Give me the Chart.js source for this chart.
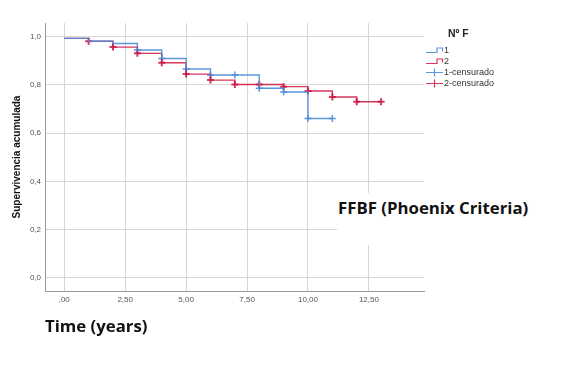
<!DOCTYPE html>
<html>
<head>
<meta charset="utf-8">
<script src="https://cdn.jsdelivr.net/npm/chart.js@4/dist/chart.umd.min.js"></script>
<style>
  html, body { margin: 0; padding: 0; background: #fff; }
  #wrap { position: relative; width: 567px; height: 367px; overflow: hidden; }
  #c { position: absolute; left: 0; top: 0; }
  #note { position: absolute; left: 337px; top: 193px; width: 205px; height: 52px; background: #fff;
          font-family: "Open Sans", sans-serif; font-weight: 700; font-size: 16.8px; color: #111;
          line-height: 20px; padding-top: 5px; padding-left: 1px; box-sizing: border-box; white-space: nowrap; }
  #legend { position: absolute; left: 426px; top: 24px; font-family: "Liberation Sans", Arial, sans-serif; color: #333; }
  #legend .ttl { position: absolute; left: 22px; top: 3px; font-weight: 700; font-size: 10.5px; color: #222; white-space: nowrap; }
  #legend .row { position: absolute; left: 0; height: 11px; font-size: 9px; line-height: 11px; white-space: nowrap; }
  #legend svg { position: absolute; left: 0; top: 0; }
  #legend .lbl { position: absolute; left: 18px; top: 0; }
</style>
</head>
<body>
<div id="wrap">
  <canvas id="c" width="567" height="367"></canvas>
  <div id="note">FFBF (Phoenix Criteria)</div>
  <div id="legend"></div>
</div>
<script>
// ---- data ----
const legendTitle = "Nº F";
const seriesLabels = ["1", "2", "1-censurado", "2-censurado"];
const xTickValues = [0, 2.5, 5, 7.5, 10, 12.5];
const xTickLabels = [",00", "2,50", "5,00", "7,50", "10,00", "12,50"];
const yTickValues = [0, 0.2, 0.4, 0.6, 0.8, 1.0];
const yTickLabels = ["0,0", "0,2", "0,4", "0,6", "0,8", "1,0"];

const group1Times = [0, 1, 2, 3, 4, 5, 6, 8, 9, 10, 11];
const group1Surv  = [0.993, 0.981, 0.972, 0.945, 0.910, 0.866, 0.841, 0.786, 0.771, 0.661, 0.661];
const group2Times = [0, 1, 2, 3, 4, 5, 6, 7, 9, 10, 11, 12, 13];
const group2Surv  = [0.993, 0.981, 0.957, 0.931, 0.892, 0.845, 0.820, 0.802, 0.793, 0.775, 0.750, 0.730, 0.730];

const group1CensorTimes = [3, 4, 5, 6, 7, 8, 9, 10, 11];
const group1CensorSurv  = [0.945, 0.910, 0.866, 0.841, 0.841, 0.786, 0.771, 0.661, 0.661];
const group2CensorTimes = [1, 2, 3, 4, 5, 6, 7, 8, 9, 10, 11, 12, 13];
const group2CensorSurv  = [0.981, 0.957, 0.931, 0.892, 0.845, 0.820, 0.802, 0.802, 0.793, 0.775, 0.750, 0.730, 0.730];

// ---- styling ----
const blue = "rgba(74,140,215,0.9)";
const red = "rgba(205,20,65,0.85)";
const pts = (xs, ys) => xs.map((x, i) => ({ x: x, y: ys[i] }));

const chart = new Chart(document.getElementById("c"), {
  type: "line",
  data: {
    datasets: [
      { label: seriesLabels[0], data: pts(group1Times, group1Surv), stepped: "before",
        borderColor: blue, borderWidth: 1.4, pointRadius: 0, fill: false },
      { label: seriesLabels[1], data: pts(group2Times, group2Surv), stepped: "before",
        borderColor: red, borderWidth: 1.4, pointRadius: 0, fill: false },
      { label: seriesLabels[2], data: pts(group1CensorTimes, group1CensorSurv), showLine: false,
        pointStyle: "cross", pointRadius: 3.5, pointBorderWidth: 1.5, borderColor: blue, pointBorderColor: blue },
      { label: seriesLabels[3], data: pts(group2CensorTimes, group2CensorSurv), showLine: false,
        pointStyle: "cross", pointRadius: 3.5, pointBorderWidth: 2, borderColor: red, pointBorderColor: red }
    ]
  },
  options: {
    responsive: false,
    devicePixelRatio: 1,
    animation: false,
    layout: { padding: { left: 0, top: 23, right: 143, bottom: 0 } },
    plugins: { legend: { display: false }, tooltip: { enabled: false } },
    scales: {
      x: {
        type: "linear", min: -0.79, max: 14.76,
        afterBuildTicks: s => { s.ticks = xTickValues.map(v => ({ value: v })); },
        afterFit: s => { s.height = 76; },
        ticks: { callback: (v) => xTickLabels[xTickValues.indexOf(v)], padding: 4,
                 font: { family: "Liberation Sans", size: 8 }, color: "#555", maxRotation: 0, autoSkip: false },
        grid: { color: "#d6d6d6", lineWidth: 1, drawTicks: false },
        border: { color: "#9a9a9a", width: 1 },
        title: { display: true, text: "Time (years)", align: "start",
                 font: { family: "Open Sans", weight: "bold", size: 16.8 }, color: "#111",
                 padding: { top: 0, bottom: 30 } }
      },
      y: {
        type: "linear", min: -0.055, max: 1.057,
        afterBuildTicks: s => { s.ticks = yTickValues.map(v => ({ value: v })); },
        afterFit: s => { s.width = 45; },
        ticks: { callback: (v) => yTickLabels[yTickValues.indexOf(v)], padding: 4,
                 font: { family: "Liberation Sans", size: 8 }, color: "#555", autoSkip: false },
        grid: { color: "#d6d6d6", lineWidth: 1, drawTicks: false },
        border: { color: "#9a9a9a", width: 1 },
        title: { display: true, text: "Supervivencia acumulada",
                 font: { family: "Liberation Sans", weight: "bold", size: 10 }, color: "#111",
                 padding: { top: 11, bottom: 0 } }
      }
    }
  }
});

// ---- legend (built from the datasets) ----
const legend = document.getElementById("legend");
const ttl = document.createElement("div");
ttl.className = "ttl"; ttl.textContent = legendTitle; legend.appendChild(ttl);
chart.data.datasets.forEach((ds, i) => {
  const row = document.createElement("div");
  row.className = "row";
  row.style.top = (21 + i * 11) + "px";
  const col = ds.borderColor;
  const icon = ds.showLine === false
    ? `<svg width="18" height="11"><path d="M0 5.5 H17 M8.5 1.5 V9.5" stroke="${col}" stroke-width="1.2" fill="none"/></svg>`
    : `<svg width="18" height="11"><path d="M0 7.5 H11 V3 H16.5 V6.5" stroke="${col}" stroke-width="1.2" fill="none"/></svg>`;
  row.innerHTML = icon + `<span class="lbl">${ds.label}</span>`;
  legend.appendChild(row);
});
</script>
</body>
</html>
